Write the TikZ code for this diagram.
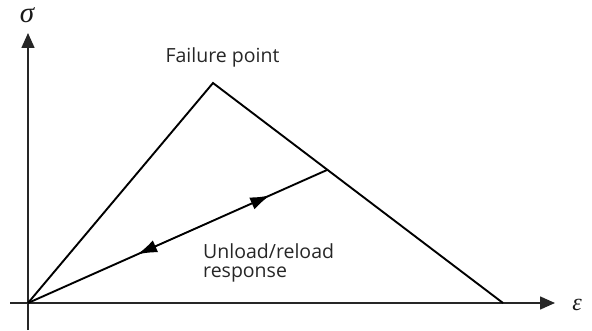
\documentclass[tikz,border=0pt]{standalone}
\usepackage{fontspec}
\setmainfont{Open Sans}
\newfontfamily\grkfont{Liberation Serif}
\usetikzlibrary{arrows.meta,decorations.markings}
\begin{document}
\begin{tikzpicture}[x=1pt,y=-1pt,
  curve/.style={line width=1.9pt,black,line join=miter},
  axis/.style={line width=1.6pt,black!85,-{Triangle[length=15pt,width=13pt]}},
  lbl/.style={font=\fontsize{19.5}{19}\selectfont,text=black!85,inner sep=0pt},
  sym/.style={font=\grkfont\itshape\fontsize{29}{29}\selectfont,inner sep=0pt,text=black!90},
  twoway/.style={decoration={markings,
      mark=at position 0.81 with {\arrow{Latex[length=20pt,width=13pt]}},
      mark=at position 0.365 with {\arrowreversed{Latex[length=20pt,width=13pt]}}},
    postaction={decorate}}]
\useasboundingbox (0,0) rectangle (592,331);
% axes
\coordinate (O) at (28,303);
\coordinate (ybot) at (28,330);
\coordinate (ytop) at (28,33);
\coordinate (xleft) at (10,303);
\coordinate (xright) at (555,303);
\draw[axis] (ybot) -- (ytop);
\draw[axis] (xleft) -- (xright);
\node[sym] (sigma) at (27,15) {σ};
\node[sym,font=\grkfont\itshape\fontsize{24}{24}\selectfont] (eps) at (577,305) {ε};
% load path: rise to failure, then softening branch
\coordinate (peak) at (213,83);
\coordinate (end) at (503,303);
\coordinate (U) at (327,170);
\draw[curve] (O) -- (peak) -- (end);
% unload/reload branch
\draw[curve,twoway] (O) -- (U);
% labels
\node[lbl,anchor=base] (fail) at (222.5,63) {Failure point};
\node[lbl,anchor=north west,align=left] (resp) at (203,243) {Unload/reload\\response};
\end{tikzpicture}
\end{document}
